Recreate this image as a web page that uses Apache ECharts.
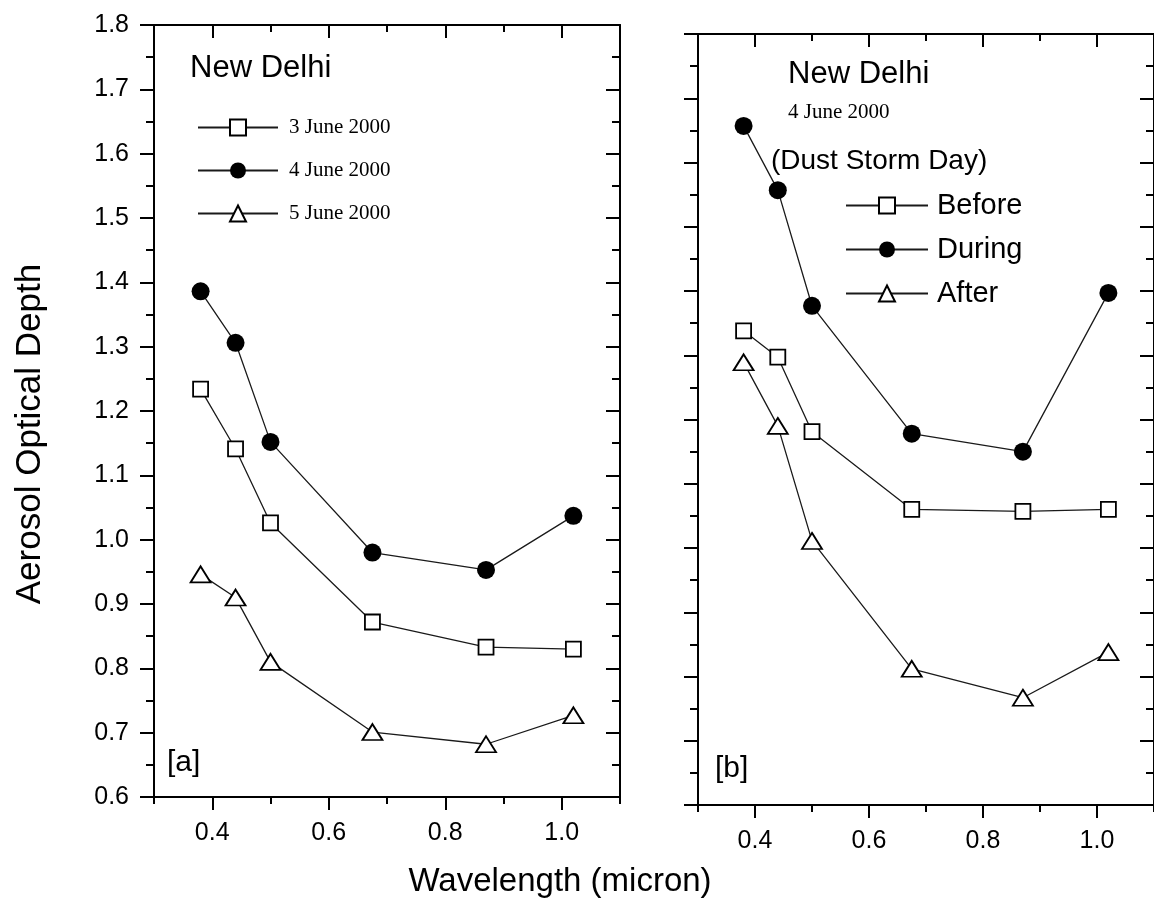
<!DOCTYPE html>
<html>
<head>
<meta charset="utf-8">
<script src="https://cdn.jsdelivr.net/npm/echarts@6/dist/echarts.min.js"></script>
<style>
  html, body { margin: 0; padding: 0; background: #fff; }
  #chart { width: 1154px; height: 911px; }
</style>
</head>
<body>
<div id="chart"></div>
<script>
// wavelengths (micron)
const wavelength = [0.38, 0.44, 0.50, 0.675, 0.87, 1.02];

// panel [a] : New Delhi, 3-5 June 2000
const june3 = [1.234, 1.141, 1.026, 0.872, 0.833, 0.830];
const june4 = [1.386, 1.306, 1.152, 0.980, 0.953, 1.037];
const june5 = [0.946, 0.910, 0.810, 0.701, 0.682, 0.727];

// panel [b] : 4 June 2000, dust storm day
const before = [1.338, 1.297, 1.181, 1.060, 1.057, 1.060];
const during = [1.657, 1.557, 1.377, 1.178, 1.150, 1.397];
const after = [1.289, 1.190, 1.011, 0.812, 0.767, 0.838];

const xMajor = [0.4, 0.6, 0.8, 1.0];
const legendA = ['3 June 2000', '4 June 2000', '5 June 2000'];
const legendB = ['Before', 'During', 'After'];

const sans = 'Liberation Sans';
const serif = 'Liberation Serif';

function pairs(ys) {
  return wavelength.map((x, i) => [x, ys[i]]);
}

function xAxes(grid) {
  const base = { gridIndex: grid, type: 'value', min: 0.3, max: 1.1, splitLine: { show: false } };
  const line = { show: true, onZero: false, lineStyle: { color: '#000', width: 2 } };
  return [
    // bottom, short ticks every 0.1
    Object.assign({}, base, {
      position: 'bottom', interval: 0.1, axisLine: line,
      axisTick: { show: true, inside: false, length: 7, lineStyle: { color: '#000', width: 2 } },
      axisLabel: { show: false }
    }),
    // bottom, long ticks + labels
    Object.assign({}, base, {
      position: 'bottom', axisLine: { show: false, onZero: false },
      axisTick: { show: true, inside: false, length: 13, customValues: xMajor, lineStyle: { color: '#000', width: 2 } },
      axisLabel: {
        show: true, customValues: xMajor, margin: 24, color: '#000',
        fontFamily: sans, fontSize: 25, formatter: v => v.toFixed(1)
      }
    }),
    // top, short inside ticks
    Object.assign({}, base, {
      position: 'top', interval: 0.1, axisLine: line,
      axisTick: { show: true, inside: true, length: 7, lineStyle: { color: '#000', width: 2 } },
      axisLabel: { show: false }
    }),
    // top, long inside ticks
    Object.assign({}, base, {
      position: 'top', axisLine: { show: false, onZero: false },
      axisTick: { show: true, inside: true, length: 13, customValues: xMajor, lineStyle: { color: '#000', width: 2 } },
      axisLabel: { show: false }
    })
  ];
}

function yAxes(grid, labels) {
  const base = {
    gridIndex: grid, type: 'value', min: 0.6, max: 1.8, interval: 0.1,
    splitLine: { show: false },
    axisLine: { show: true, onZero: false, lineStyle: { color: '#000', width: 2 } }
  };
  return [
    Object.assign({}, base, {
      position: 'left',
      axisTick: { show: true, inside: false, length: 14, lineStyle: { color: '#000', width: 2 } },
      minorTick: { show: true, splitNumber: 2, length: 8, lineStyle: { color: '#000', width: 2 } },
      axisLabel: {
        show: labels, margin: 25, color: '#000', fontFamily: sans, fontSize: 25,
        formatter: v => v.toFixed(1)
      }
    }),
    Object.assign({}, base, {
      position: 'right',
      axisTick: { show: true, inside: true, length: 14, lineStyle: { color: '#000', width: 2 } },
      minorTick: { show: true, splitNumber: 2, length: 8, lineStyle: { color: '#000', width: 2 } },
      axisLabel: { show: false }
    })
  ];
}

function lineSeries(name, ys, xIdx, yIdx, shape) {
  const s = {
    name: name, type: 'line', data: pairs(ys),
    xAxisIndex: xIdx, yAxisIndex: yIdx,
    showSymbol: true, animation: false,
    lineStyle: { color: '#1a1a1a', width: 1.3 },
    emphasis: { disabled: true }
  };
  if (shape === 'rect') {
    s.symbol = 'rect';
    s.symbolSize = 15;
    s.itemStyle = { color: '#fff', borderColor: '#000', borderWidth: 1.8 };
  } else if (shape === 'circle') {
    s.symbol = 'circle';
    s.symbolSize = 18;
    s.itemStyle = { color: '#000', borderColor: '#000', borderWidth: 0 };
  } else {
    s.symbol = 'triangle';
    s.symbolSize = [20, 16];
    s.itemStyle = { color: '#fff', borderColor: '#000', borderWidth: 1.8 };
  }
  return s;
}

const chart = echarts.init(document.getElementById('chart'), null, { renderer: 'canvas' });

const option = {
  backgroundColor: '#fff',
  animation: false,
  grid: [
    { left: 154, top: 25, width: 466, height: 772 },
    { left: 698, top: 34, width: 456, height: 771 }
  ],
  xAxis: xAxes(0).concat(xAxes(1)),
  yAxis: yAxes(0, true).concat(yAxes(1, false)),
  legend: [
    {
      data: legendA, orient: 'vertical', left: 192, top: 112,
      itemWidth: 80, itemHeight: 20, itemGap: 22,
      selectedMode: false,
      textStyle: { fontFamily: serif, fontSize: 21, color: '#000', padding: [0, 0, 0, 6] }
    },
    {
      data: legendB, orient: 'vertical', left: 840, top: 186,
      itemWidth: 82, itemHeight: 20, itemGap: 15,
      selectedMode: false,
      textStyle: { fontFamily: sans, fontSize: 29, color: '#000', padding: [0, 0, 0, 4] }
    }
  ],
  series: [
    lineSeries(legendA[0], june3, 0, 0, 'rect'),
    lineSeries(legendA[1], june4, 0, 0, 'circle'),
    lineSeries(legendA[2], june5, 0, 0, 'triangle'),
    lineSeries(legendB[0], before, 4, 2, 'rect'),
    lineSeries(legendB[1], during, 4, 2, 'circle'),
    lineSeries(legendB[2], after, 4, 2, 'triangle')
  ],
  graphic: [
    { type: 'text', x: 190, y: 68, style: { text: 'New Delhi', font: '31px "Liberation Sans"', fill: '#000', textVerticalAlign: 'middle' } },
    { type: 'text', x: 167, y: 763, style: { text: '[a]', font: '30px "Liberation Sans"', fill: '#000', textVerticalAlign: 'middle' } },
    { type: 'text', x: 788, y: 74, style: { text: 'New Delhi', font: '31px "Liberation Sans"', fill: '#000', textVerticalAlign: 'middle' } },
    { type: 'text', x: 788, y: 112, style: { text: '4 June 2000', font: '21px "Liberation Serif"', fill: '#000', textVerticalAlign: 'middle' } },
    { type: 'text', x: 771, y: 161, style: { text: '(Dust Storm Day)', font: '28px "Liberation Sans"', fill: '#000', textVerticalAlign: 'middle' } },
    { type: 'text', x: 715, y: 769, style: { text: '[b]', font: '30px "Liberation Sans"', fill: '#000', textVerticalAlign: 'middle' } },
    { type: 'text', x: 560, y: 882, style: { text: 'Wavelength (micron)', font: '33px "Liberation Sans"', fill: '#000', textAlign: 'center', textVerticalAlign: 'middle' } },
    { type: 'text', x: 30, y: 434, rotation: Math.PI / 2, style: { text: 'Aerosol Optical Depth', font: '35px "Liberation Sans"', fill: '#000', textAlign: 'center', textVerticalAlign: 'middle' } }
  ]
};

chart.setOption(option);
</script>
</body>
</html>
